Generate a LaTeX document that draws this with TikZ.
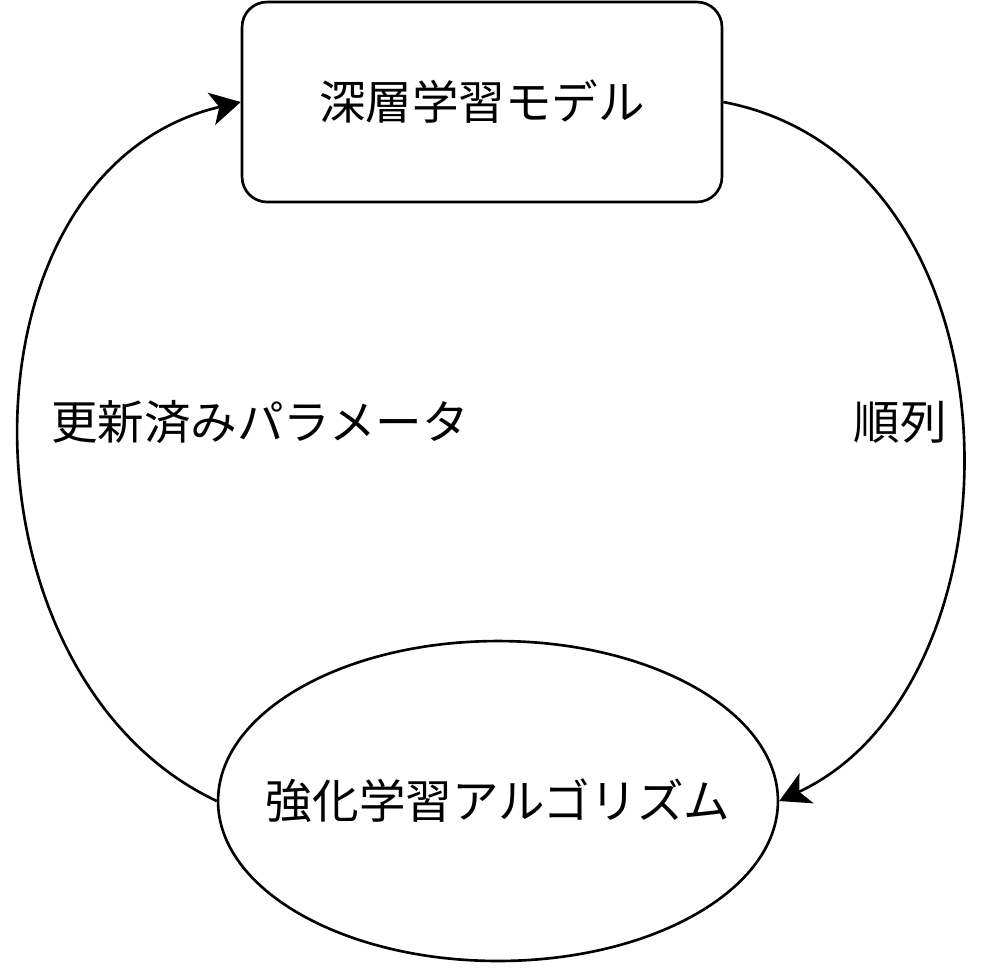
\documentclass[tikz,border=0pt]{standalone}
\usepackage{fontspec}
\newfontfamily\jpfont{Noto Sans CJK JP}
\usetikzlibrary{arrows.meta,shapes.geometric}

\begin{document}
\begin{tikzpicture}[x=0.02cm,y=-0.02cm,
  box/.style={draw,line width=1.5pt,rounded corners=0.5cm,minimum width=9.6cm,minimum height=4cm,font=\jpfont\fontsize{26.5}{32}\selectfont},
  oval/.style={draw,ellipse,line width=1.5pt,inner sep=0pt,minimum width=11.2cm,minimum height=6.4cm,font=\jpfont\fontsize{26.5}{32}\selectfont},
  lbl/.style={font=\jpfont\fontsize{26.5}{32}\selectfont,inner sep=0pt},
  flow/.style={line width=1.5pt,-{Stealth[length=0.6cm,width=0.66cm,inset=0.16cm]}}]
  \useasboundingbox (0,0) rectangle (1000,968);
  \node[box] (model) at (482,102) {深層学習モデル};
  \node[oval] (algo) at (498,801) {\makebox[0pt]{強化学習アルゴリズム}};
  \node[lbl] (upd) at (260,422) {更新済みパラメータ};
  \node[lbl] (perm) at (900,422) {順列};
  % curved edges
  \draw[flow] (model.east) .. controls (1030,160) and (1032,683) .. (algo.east);
  \draw[flow] (algo.west) .. controls (-50,675) and (-50,170) .. (model.west);
\end{tikzpicture}
\end{document}
